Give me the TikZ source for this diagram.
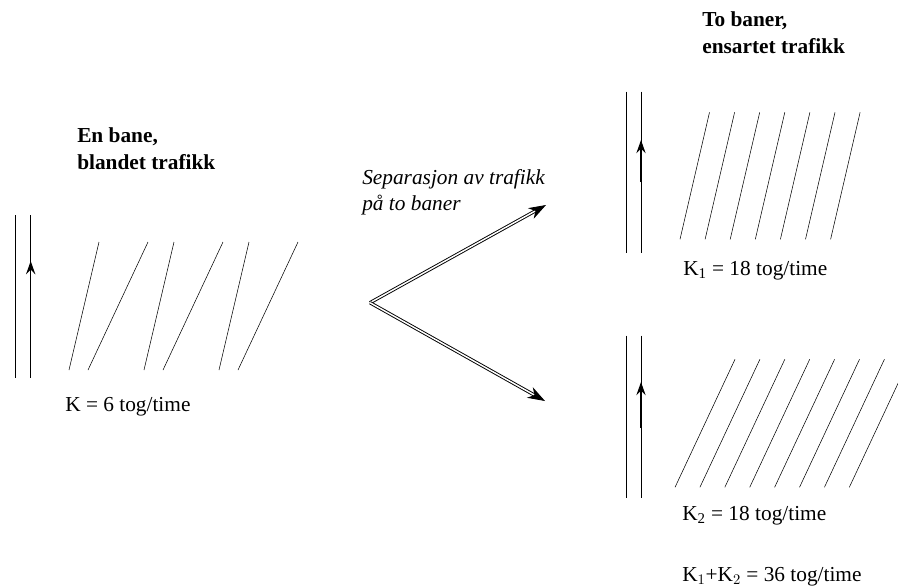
\documentclass[tikz,border=0pt]{standalone}
\usepackage{fontspec}
\setmainfont{Liberation Serif}
\usepackage{tikz}
\usetikzlibrary{arrows.meta}

\tikzset{
  lbl/.style={anchor=base west, inner sep=0pt, font=\fontsize{16}{21}\selectfont},
  ttl/.style={lbl, font=\fontsize{16}{20}\selectfont\bfseries, align=left},
  rail/.style={line width=0.6pt},
  dir/.style={line width=1pt, -{Stealth[length=10pt, width=7pt, inset=3.5pt]}},
  split/.style={double, line width=0.7pt, double distance=1.1pt, -{Stealth[length=13pt, width=9pt, inset=4pt]}}
}

\begin{document}
\begin{tikzpicture}[x=0.75pt, y=-0.75pt]
\useasboundingbox (0,0) rectangle (898,586);
\clip (0,0) rectangle (898,586);

\node[ttl] (tleft) at (77,169) {En bane,\\blandet trafikk};
\node[ttl] (tright) at (702,53) {To baner,\\ensartet trafikk};
\node[lbl, font=\fontsize{16}{19}\selectfont\itshape, align=left] (tsep) at (362,210) {Separasjon av trafikk\\på to baner};

\draw[rail] (15.7,215) -- (15.7,378);
\draw[rail] (30.7,215) -- (30.7,378);
\draw[dir] (30.7,310) -- (30.7,261);
\foreach \x in {69,144,219}
  {\draw (\x,370) -- (\x+30,242);
   \draw (\x+19,370) -- (\x+79,242);}
\node[lbl] (kleft) at (65,411) {K = 6 tog/time};

\coordinate (fork) at (370,302.7);
\coordinate (upper) at (546,205);
\coordinate (lower) at (545,401);
\draw[split] (fork) -- (upper);
\draw[split] (fork) -- (lower);

\draw[rail] (626.7,91.7) -- (626.7,253.3);
\draw[rail] (641,91.7) -- (641,253.3);
\draw[dir] (641,182) -- (641,140);
\foreach \i in {0,...,6}
  \draw (680+25.1*\i,239.3) -- (709.5+25.1*\i,112.3);
\node[lbl] (kone) at (683,275) {K\textsubscript{1} = 18 tog/time};

\draw[rail] (626.7,335.7) -- (626.7,498.3);
\draw[rail] (641,335.7) -- (641,498.3);
\draw[dir] (641,428) -- (641,382);
\foreach \i in {0,...,7}
  \draw (675+24.9*\i,487.3) -- (735+24.9*\i,359.3);
\node[lbl] (ktwo) at (682,520) {K\textsubscript{2} = 18 tog/time};
\node[lbl] (ksum) at (682,581) {K$_1$+K$_2$ = 36 tog/time};
\end{tikzpicture}
\end{document}
